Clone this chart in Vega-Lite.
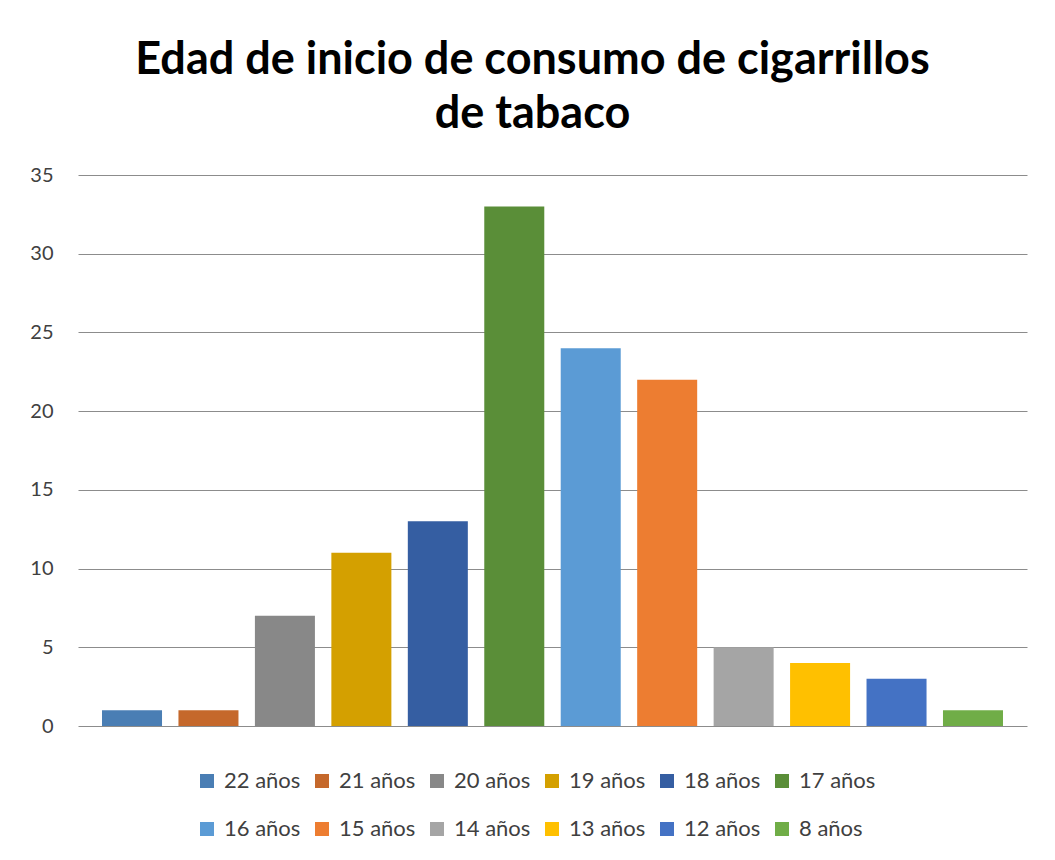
{
  "$schema": "https://vega.github.io/schema/vega-lite/v6.json",
  "width": 949,
  "height": 551,
  "autosize": {"type": "none"},
  "padding": {"left": 78, "top": 175, "right": 28, "bottom": 134},
  "background": "white",
  "title": {
    "text": ["Edad de inicio de consumo de cigarrillos", "de tabaco"],
    "font": "Lato",
    "fontSize": 45,
    "fontWeight": "bold",
    "color": "#000000",
    "anchor": "middle",
    "dx": -20,
    "offset": 28,
    "lineHeight": 54
  },
  "data": {
    "values": [
      {"edad": "22 años", "valor": 1},
      {"edad": "21 años", "valor": 1},
      {"edad": "20 años", "valor": 7},
      {"edad": "19 años", "valor": 11},
      {"edad": "18 años", "valor": 13},
      {"edad": "17 años", "valor": 33},
      {"edad": "16 años", "valor": 24},
      {"edad": "15 años", "valor": 22},
      {"edad": "14 años", "valor": 5},
      {"edad": "13 años", "valor": 4},
      {"edad": "12 años", "valor": 3},
      {"edad": "8 años", "valor": 1}
    ]
  },
  "mark": {"type": "bar"},
  "encoding": {
    "x": {
      "field": "edad",
      "type": "nominal",
      "sort": null,
      "scale": {"paddingInner": 0.215, "paddingOuter": 0.314},
      "axis": null
    },
    "y": {
      "field": "valor",
      "type": "quantitative",
      "scale": {"domain": [0, 35], "nice": false},
      "axis": {
        "values": [0, 5, 10, 15, 20, 25, 30, 35],
        "title": null,
        "domain": false,
        "ticks": false,
        "labelFont": "Lato",
        "labelFontSize": 20,
        "labelColor": "#404040",
        "labelPadding": 25,
        "gridColor": "#8c8c8c",
        "gridWidth": 1
      }
    },
    "color": {
      "field": "edad",
      "type": "nominal",
      "sort": null,
      "scale": {
        "domain": ["22 años", "21 años", "20 años", "19 años", "18 años", "17 años", "16 años", "15 años", "14 años", "13 años", "12 años", "8 años"],
        "range": ["#4a7eb4", "#c5682b", "#888888", "#d4a000", "#355ea2", "#5a8e38", "#5b9bd5", "#ed7d31", "#a5a5a5", "#ffc000", "#4472c4", "#70ad47"]
      },
      "legend": {
        "title": null,
        "orient": "none",
        "legendX": 118,
        "legendY": 595,
        "direction": "horizontal",
        "columns": 6,
        "symbolType": "square",
        "symbolSize": 196,
        "symbolStrokeWidth": 0,
        "labelFont": "Lato",
        "labelFontSize": 22,
        "labelColor": "#404040",
        "labelOffset": 6,
        "columnPadding": 10,
        "rowPadding": 26
      }
    }
  },
  "config": {
    "view": {"stroke": null}
  }
}
